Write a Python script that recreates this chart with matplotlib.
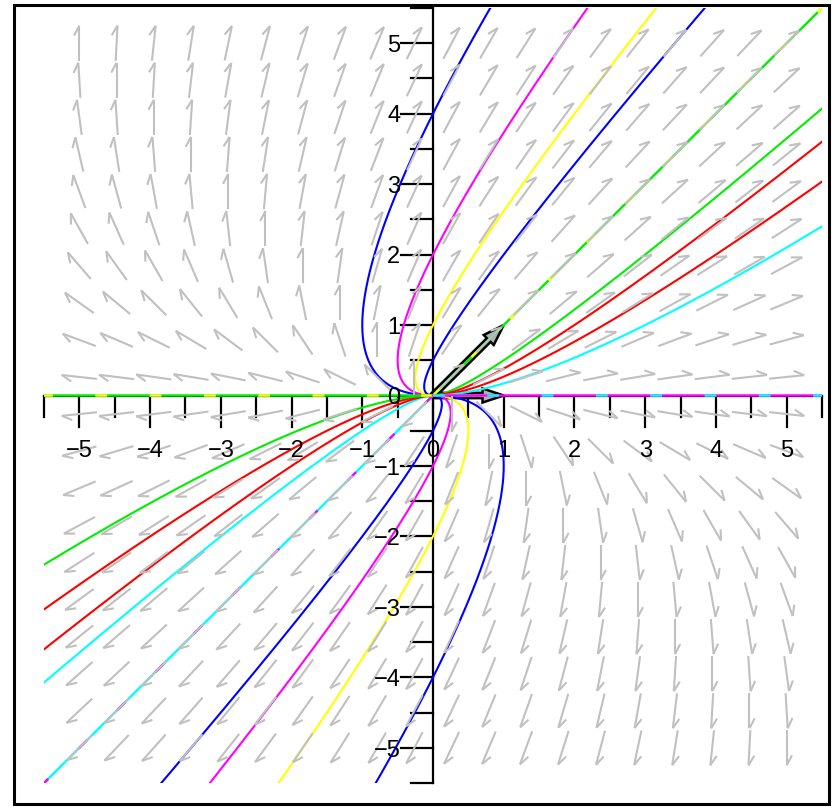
import numpy as np
import matplotlib.pyplot as plt
from matplotlib.collections import LineCollection
from matplotlib.patches import Rectangle, FancyArrow

# linear system  x' = A x
A = np.array([[1.0, 1.0],
              [0.0, 2.0]])

# trajectories: initial points and their colours
traj_points = [(0, 4), (0, 2), (0, 1), (0, 0.5),
               (0, -4), (0, -2), (0, -1), (0, -0.5),
               (1, 0.5), (2, 1), (4, 2), (3, 1),
               (-1, -0.5), (-2, -1), (-4, -2), (-3, -1)]
traj_colors = ['blue', 'magenta', 'yellow', 'blue',
               'blue', 'yellow', 'magenta', 'blue',
               '#00ee00', 'red', 'red', 'cyan',
               'cyan', 'red', 'red', '#00ee00']

# trajectories lying on the eigen-lines (base colour, dashed overlay colour)
eigen_line_points = [(1, 1), (-1, -1), (-1, 0), (1, 0)]
eigen_line_base = ['#00ee00', 'cyan', '#00ee00', 'magenta']
eigen_line_over = ['yellow', 'magenta', 'yellow', 'cyan']

# eigenvectors drawn as arrows
eigvecs = [(1, 1), (1, 0)]

x_ticks = [-5, -4, -3, -2, -1, 0, 1, 2, 3, 4, 5]
y_ticks = [-5, -4, -3, -2, -1, 0, 1, 2, 3, 4, 5]

LIM = 5.5
FIELD_N = 20
FIELD_LO, FIELD_HI = -5.0, 5.0

plt.rcParams['font.family'] = ['Liberation Sans', 'DejaVu Sans']

fig = plt.figure(figsize=(8.32, 8.09), dpi=100)
W, H = 832, 809
ax = fig.add_axes([44 / W, (H - 783) / H, 778 / W, 775 / H])
ax.set_xlim(-LIM, LIM)
ax.set_ylim(-LIM, LIM)
ax.axis('off')

# outer frame
fig.patches.append(Rectangle((14 / W, 5 / H), (829 - 14) / W, (804 - 5) / H,
                             transform=fig.transFigure, fill=False,
                             ec='black', lw=2.2))

# solution of the linear system
evals, P = np.linalg.eig(A)
Pinv = np.linalg.inv(P)
t = np.linspace(-14, 4, 4000)


def solve(p0):
    c = Pinv @ np.array(p0, dtype=float)
    X = P @ (c[:, None] * np.exp(np.outer(evals, t)))
    return X[0], X[1]


for p0, col in zip(traj_points, traj_colors):
    xs, ys = solve(p0)
    ax.plot(xs, ys, color=col, lw=1.5, zorder=3)

for p0, cb, co in zip(eigen_line_points, eigen_line_base, eigen_line_over):
    xs, ys = solve(p0)
    ax.plot(xs, ys, color=cb, lw=1.7, zorder=3)
    ax.plot(xs, ys, color=co, lw=1.7, zorder=3, dashes=(5, 18))

# direction field with half-headed arrows
g = np.linspace(FIELD_LO, FIELD_HI, FIELD_N)
L, barb, ang = 0.5, 0.16, np.deg2rad(28)
segs = []
for gx in g:
    for gy in g:
        v = A @ np.array([gx, gy])
        u = v / np.hypot(*v)
        tail = np.array([gx, gy]) - 0.5 * L * u
        tip = np.array([gx, gy]) + 0.5 * L * u
        back = np.arctan2(-u[1], -u[0]) - ang
        bend = tip + barb * np.array([np.cos(back), np.sin(back)])
        segs.append([tail, tip])
        segs.append([tip, bend])
ax.add_collection(LineCollection(segs, colors='#c0c0c0', lw=1.5, zorder=4))

# eigenvector arrows
for ex, ey in eigvecs:
    ax.add_patch(FancyArrow(0, 0, ex, ey, width=0.075, head_width=0.2,
                            head_length=0.3, length_includes_head=True,
                            fc='#b4b4b4', ec='black', lw=1.8, zorder=2.5))

# axes drawn by hand, Maple style
ax.plot([-LIM, LIM], [0, 0], color='black', lw=1.6, zorder=2, clip_on=False)
ax.plot([0, 0], [-LIM, LIM], color='black', lw=1.6, zorder=2, clip_on=False)
for k in np.arange(-11, 12):
    v = k / 2
    major = (k % 2 == 0)
    tl = 0.45 if major else 0.31
    ax.plot([v, v], [0, -tl], color='black', lw=1.6, zorder=2, clip_on=False)
    ax.plot([0, -tl], [v, v], color='black', lw=1.6, zorder=2, clip_on=False)

for v in x_ticks:
    s = str(v).replace('-', '\u2212')
    ax.text(v, -0.79, s, ha='center', va='center', fontsize=17,
            zorder=5, clip_on=False)
for v in y_ticks:
    s = str(v).replace('-', '\u2212')
    ax.text(-0.46, v - 0.04, s, ha='right', va='center', fontsize=17,
            zorder=5, clip_on=False)

fig.savefig('out.png', dpi=100)
